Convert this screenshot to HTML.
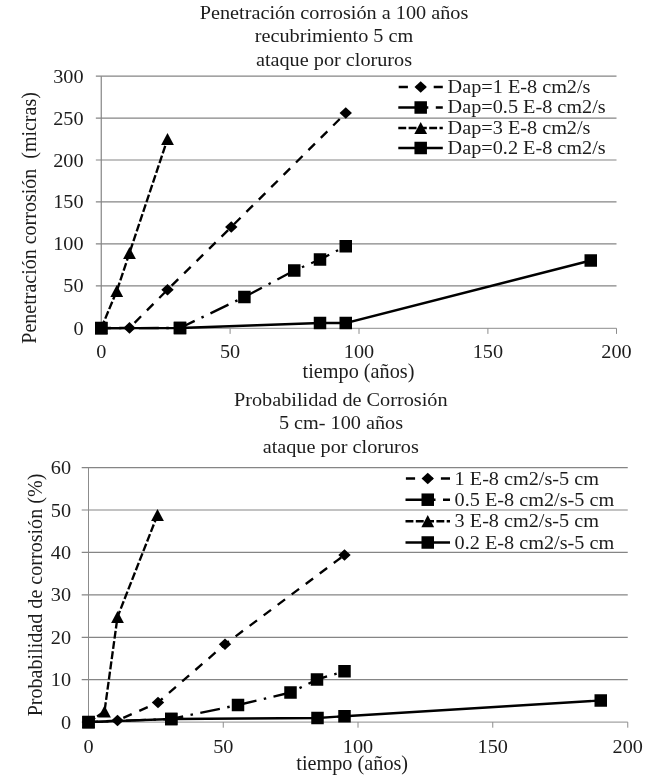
<!DOCTYPE html>
<html><head><meta charset="utf-8"><title>Charts</title>
<style>
html,body{margin:0;padding:0;background:#fff;}
svg{display:block;font-family:"Liberation Serif",serif;fill:#000;}
text{fill:#1c1c1c;}
</style></head>
<body>
<svg width="656" height="780" viewBox="0 0 656 780">
<defs><filter id="soft" x="0" y="0" width="656" height="780" filterUnits="userSpaceOnUse"><feGaussianBlur stdDeviation="0.4"/></filter></defs>
<rect x="0" y="0" width="656" height="780" fill="#fff"/>
<g filter="url(#soft)">
<line x1="95.85" y1="76.15" x2="616.5" y2="76.15" stroke="#858585" stroke-width="1.2"/>
<line x1="95.85" y1="118.1" x2="616.5" y2="118.1" stroke="#858585" stroke-width="1.2"/>
<line x1="95.85" y1="160.0" x2="616.5" y2="160.0" stroke="#858585" stroke-width="1.2"/>
<line x1="95.85" y1="201.95" x2="616.5" y2="201.95" stroke="#858585" stroke-width="1.2"/>
<line x1="95.85" y1="243.9" x2="616.5" y2="243.9" stroke="#858585" stroke-width="1.2"/>
<line x1="95.85" y1="285.85" x2="616.5" y2="285.85" stroke="#858585" stroke-width="1.2"/>
<line x1="95.85" y1="328.3" x2="616.5" y2="328.3" stroke="#8c8c8c" stroke-width="1.0"/>
<line x1="101.25" y1="76.15" x2="101.25" y2="328.3" stroke="#858585" stroke-width="1.2"/>
<line x1="101.25" y1="328.3" x2="101.25" y2="333.90000000000003" stroke="#8c8c8c" stroke-width="1"/>
<line x1="230.1" y1="328.3" x2="230.1" y2="333.90000000000003" stroke="#8c8c8c" stroke-width="1"/>
<line x1="359.0" y1="328.3" x2="359.0" y2="333.90000000000003" stroke="#8c8c8c" stroke-width="1"/>
<line x1="487.9" y1="328.3" x2="487.9" y2="333.90000000000003" stroke="#8c8c8c" stroke-width="1"/>
<line x1="616.5" y1="328.3" x2="616.5" y2="333.90000000000003" stroke="#8c8c8c" stroke-width="1"/>
<text transform="translate(83.5,82.65) scale(1,0.92)" text-anchor="end" font-size="20.25" xml:space="preserve">300</text>
<text transform="translate(83.5,124.6) scale(1,0.92)" text-anchor="end" font-size="20.25" xml:space="preserve">250</text>
<text transform="translate(83.5,166.5) scale(1,0.92)" text-anchor="end" font-size="20.25" xml:space="preserve">200</text>
<text transform="translate(83.5,208.45) scale(1,0.92)" text-anchor="end" font-size="20.25" xml:space="preserve">150</text>
<text transform="translate(83.5,250.4) scale(1,0.92)" text-anchor="end" font-size="20.25" xml:space="preserve">100</text>
<text transform="translate(83.5,292.35) scale(1,0.92)" text-anchor="end" font-size="20.25" xml:space="preserve">50</text>
<text transform="translate(83.5,334.8) scale(1,0.92)" text-anchor="end" font-size="20.25" xml:space="preserve">0</text>
<text transform="translate(101.25,358.3) scale(1,0.92)" text-anchor="middle" font-size="20.25" xml:space="preserve">0</text>
<text transform="translate(230.1,358.3) scale(1,0.92)" text-anchor="middle" font-size="20.25" xml:space="preserve">50</text>
<text transform="translate(359.0,358.3) scale(1,0.92)" text-anchor="middle" font-size="20.25" xml:space="preserve">100</text>
<text transform="translate(487.9,358.3) scale(1,0.92)" text-anchor="middle" font-size="20.25" xml:space="preserve">150</text>
<text transform="translate(616.5,358.3) scale(1,0.92)" text-anchor="middle" font-size="20.25" xml:space="preserve">200</text>
<text transform="translate(334,18.75) scale(1,0.92)" text-anchor="middle" font-size="20.25" xml:space="preserve">Penetración corrosión a 100 años</text>
<text transform="translate(334,41.75) scale(1,0.92)" text-anchor="middle" font-size="20.25" xml:space="preserve">recubrimiento 5 cm</text>
<text transform="translate(334,65.5) scale(1,0.92)" text-anchor="middle" font-size="20.25" xml:space="preserve">ataque por cloruros</text>
<text transform="translate(358.5,377.6) scale(1,1.05)" text-anchor="middle" font-size="20.25" xml:space="preserve">tiempo (años)</text>
<text transform="translate(35.8,217.9) rotate(-90) scale(1,1.05)" text-anchor="middle" font-size="20.0" xml:space="preserve">Penetración corrosión  (micras)</text>
<path d="M101.3 328.1L129.5 327.9L167.5 289.75L231.25 227L345.75 113" fill="none" stroke="#000" stroke-width="2.35" stroke-linejoin="round" stroke-dasharray="9.2 8.3" stroke-dashoffset="-0.4"/>
<path d="M95.10 328.1L101.3 322.30L107.50 328.1L101.3 333.90Z"/>
<path d="M123.30 327.9L129.5 322.10L135.70 327.9L129.5 333.70Z"/>
<path d="M161.30 289.75L167.5 283.95L173.70 289.75L167.5 295.55Z"/>
<path d="M225.05 227L231.25 221.20L237.45 227L231.25 232.80Z"/>
<path d="M339.55 113L345.75 107.20L351.95 113L345.75 118.80Z"/>
<path d="M101.3 328.1L180 328.0L244.4 297L294.25 270.5L320 259.5L345.75 246.25" fill="none" stroke="#000" stroke-width="2.35" stroke-linejoin="round" stroke-dasharray="20 7.5 2.5 7.5"/>
<rect x="95.05" y="321.85" width="12.5" height="12.5"/>
<rect x="173.75" y="321.75" width="12.5" height="12.5"/>
<rect x="238.15" y="290.75" width="12.5" height="12.5"/>
<rect x="288.00" y="264.25" width="12.5" height="12.5"/>
<rect x="313.75" y="253.25" width="12.5" height="12.5"/>
<rect x="339.50" y="240.00" width="12.5" height="12.5"/>
<path d="M101.3 328.1L116.75 291L129.5 253L167.5 139" fill="none" stroke="#000" stroke-width="2.35" stroke-linejoin="round" stroke-dasharray="7.9 2.4"/>
<path d="M94.90 334.20L101.3 322.00L107.70 334.20Z"/>
<path d="M110.35 297.10L116.75 284.90L123.15 297.10Z"/>
<path d="M123.10 259.10L129.5 246.90L135.90 259.10Z"/>
<path d="M161.10 145.10L167.5 132.90L173.90 145.10Z"/>
<path d="M101.3 328.1L180 328.0L320 323L345.75 323L590.75 260.5" fill="none" stroke="#000" stroke-width="2.35" stroke-linejoin="round"/>
<rect x="95.05" y="321.85" width="12.5" height="12.5"/>
<rect x="173.75" y="321.75" width="12.5" height="12.5"/>
<rect x="313.75" y="316.75" width="12.5" height="12.5"/>
<rect x="339.50" y="316.75" width="12.5" height="12.5"/>
<rect x="584.50" y="254.25" width="12.5" height="12.5"/>
<path d="M398.3 87L442.8 87" fill="none" stroke="#000" stroke-width="2.35" stroke-linejoin="round" stroke-dasharray="9.2 8.3" stroke-dashoffset="-0.4"/>
<path d="M414.50 87L420.7 81.20L426.90 87L420.7 92.80Z"/>
<text transform="translate(447.6,93.25) scale(1,0.92)" text-anchor="start" font-size="20.25" xml:space="preserve">Dap=1 E-8 cm2/s</text>
<path d="M398.3 107.5L442.8 107.5" fill="none" stroke="#000" stroke-width="2.35" stroke-linejoin="round" stroke-dasharray="20 7.5 2.5 7.5"/>
<rect x="414.45" y="101.25" width="12.5" height="12.5"/>
<text transform="translate(447.6,113.25) scale(1,0.92)" text-anchor="start" font-size="20.25" xml:space="preserve">Dap=0.5 E-8 cm2/s</text>
<path d="M398.3 128L442.8 128" fill="none" stroke="#000" stroke-width="2.35" stroke-linejoin="round" stroke-dasharray="7.9 2.4"/>
<path d="M414.30 134.10L420.7 121.90L427.10 134.10Z"/>
<text transform="translate(447.6,133.5) scale(1,0.92)" text-anchor="start" font-size="20.25" xml:space="preserve">Dap=3 E-8 cm2/s</text>
<path d="M398.3 148L442.8 148" fill="none" stroke="#000" stroke-width="2.35" stroke-linejoin="round"/>
<rect x="414.45" y="141.75" width="12.5" height="12.5"/>
<text transform="translate(447.6,153.75) scale(1,0.92)" text-anchor="start" font-size="20.25" xml:space="preserve">Dap=0.2 E-8 cm2/s</text>

<line x1="81.7" y1="467.6" x2="627.75" y2="467.6" stroke="#858585" stroke-width="1.2"/>
<line x1="81.7" y1="510.0" x2="627.75" y2="510.0" stroke="#858585" stroke-width="1.2"/>
<line x1="81.7" y1="552.4" x2="627.75" y2="552.4" stroke="#858585" stroke-width="1.2"/>
<line x1="81.7" y1="594.85" x2="627.75" y2="594.85" stroke="#858585" stroke-width="1.2"/>
<line x1="81.7" y1="637.3" x2="627.75" y2="637.3" stroke="#858585" stroke-width="1.2"/>
<line x1="81.7" y1="679.7" x2="627.75" y2="679.7" stroke="#858585" stroke-width="1.2"/>
<line x1="81.7" y1="722.1" x2="627.75" y2="722.1" stroke="#8c8c8c" stroke-width="1.0"/>
<line x1="88.5" y1="467.6" x2="88.5" y2="722.1" stroke="#8c8c8c" stroke-width="1.0"/>
<line x1="88.5" y1="722.1" x2="88.5" y2="727.7" stroke="#8c8c8c" stroke-width="1"/>
<line x1="223.25" y1="722.1" x2="223.25" y2="727.7" stroke="#8c8c8c" stroke-width="1"/>
<line x1="358.0" y1="722.1" x2="358.0" y2="727.7" stroke="#8c8c8c" stroke-width="1"/>
<line x1="492.75" y1="722.1" x2="492.75" y2="727.7" stroke="#8c8c8c" stroke-width="1"/>
<line x1="627.75" y1="722.1" x2="627.75" y2="727.7" stroke="#8c8c8c" stroke-width="1"/>
<text transform="translate(71,474.1) scale(1,0.92)" text-anchor="end" font-size="20.25" xml:space="preserve">60</text>
<text transform="translate(71,516.5) scale(1,0.92)" text-anchor="end" font-size="20.25" xml:space="preserve">50</text>
<text transform="translate(71,558.9) scale(1,0.92)" text-anchor="end" font-size="20.25" xml:space="preserve">40</text>
<text transform="translate(71,601.35) scale(1,0.92)" text-anchor="end" font-size="20.25" xml:space="preserve">30</text>
<text transform="translate(71,643.8) scale(1,0.92)" text-anchor="end" font-size="20.25" xml:space="preserve">20</text>
<text transform="translate(71,686.2) scale(1,0.92)" text-anchor="end" font-size="20.25" xml:space="preserve">10</text>
<text transform="translate(71,728.6) scale(1,0.92)" text-anchor="end" font-size="20.25" xml:space="preserve">0</text>
<text transform="translate(88.5,752.6) scale(1,0.92)" text-anchor="middle" font-size="20.25" xml:space="preserve">0</text>
<text transform="translate(223.25,752.6) scale(1,0.92)" text-anchor="middle" font-size="20.25" xml:space="preserve">50</text>
<text transform="translate(358.0,752.6) scale(1,0.92)" text-anchor="middle" font-size="20.25" xml:space="preserve">100</text>
<text transform="translate(492.75,752.6) scale(1,0.92)" text-anchor="middle" font-size="20.25" xml:space="preserve">150</text>
<text transform="translate(627.75,752.6) scale(1,0.92)" text-anchor="middle" font-size="20.25" xml:space="preserve">200</text>
<text transform="translate(340.75,405.75) scale(1,0.92)" text-anchor="middle" font-size="20.25" xml:space="preserve">Probabilidad de Corrosión</text>
<text transform="translate(341,428.75) scale(1,0.92)" text-anchor="middle" font-size="20.25" xml:space="preserve">5 cm- 100 años</text>
<text transform="translate(340.75,452.5) scale(1,0.92)" text-anchor="middle" font-size="20.25" xml:space="preserve">ataque por cloruros</text>
<text transform="translate(352.2,770.1) scale(1,1.05)" text-anchor="middle" font-size="20.25" xml:space="preserve">tiempo (años)</text>
<text transform="translate(42.0,595.0) rotate(-90) scale(1,1.05)" text-anchor="middle" font-size="20.1" xml:space="preserve">Probabilidad de corrosión (%)</text>
<path d="M88.5 722.1L117.5 720.5L158 702.5L225 644.25L344.5 555" fill="none" stroke="#000" stroke-width="2.35" stroke-linejoin="round" stroke-dasharray="9.2 8.3" stroke-dashoffset="-0.4"/>
<path d="M82.30 722.1L88.5 716.30L94.70 722.1L88.5 727.90Z"/>
<path d="M111.30 720.5L117.5 714.70L123.70 720.5L117.5 726.30Z"/>
<path d="M151.80 702.5L158 696.70L164.20 702.5L158 708.30Z"/>
<path d="M218.80 644.25L225 638.45L231.20 644.25L225 650.05Z"/>
<path d="M338.30 555L344.5 549.20L350.70 555L344.5 560.80Z"/>
<path d="M88.5 722.1L171.25 719L238 705L290.5 692.5L317 679.5L344.5 671.25" fill="none" stroke="#000" stroke-width="2.35" stroke-linejoin="round" stroke-dasharray="20 7.5 2.5 7.5"/>
<rect x="82.25" y="715.85" width="12.5" height="12.5"/>
<rect x="165.00" y="712.75" width="12.5" height="12.5"/>
<rect x="231.75" y="698.75" width="12.5" height="12.5"/>
<rect x="284.25" y="686.25" width="12.5" height="12.5"/>
<rect x="310.75" y="673.25" width="12.5" height="12.5"/>
<rect x="338.25" y="665.00" width="12.5" height="12.5"/>
<path d="M88.5 722.1L104.5 711.5L117.5 617L157.5 515" fill="none" stroke="#000" stroke-width="2.35" stroke-linejoin="round" stroke-dasharray="7.9 2.4"/>
<path d="M82.10 728.20L88.5 716.00L94.90 728.20Z"/>
<path d="M98.10 717.60L104.5 705.40L110.90 717.60Z"/>
<path d="M111.10 623.10L117.5 610.90L123.90 623.10Z"/>
<path d="M151.10 521.10L157.5 508.90L163.90 521.10Z"/>
<path d="M88.5 722.1L171.25 719L317.5 718L344.5 716.25L600.75 700.5" fill="none" stroke="#000" stroke-width="2.35" stroke-linejoin="round"/>
<rect x="82.25" y="715.85" width="12.5" height="12.5"/>
<rect x="165.00" y="712.75" width="12.5" height="12.5"/>
<rect x="311.25" y="711.75" width="12.5" height="12.5"/>
<rect x="338.25" y="710.00" width="12.5" height="12.5"/>
<rect x="594.50" y="694.25" width="12.5" height="12.5"/>
<path d="M405.5 478.5L450 478.5" fill="none" stroke="#000" stroke-width="2.35" stroke-linejoin="round" stroke-dasharray="9.2 8.3" stroke-dashoffset="-0.4"/>
<path d="M421.55 478.5L427.75 472.70L433.95 478.5L427.75 484.30Z"/>
<text transform="translate(454.6,484.6) scale(1,0.92)" text-anchor="start" font-size="20.25" xml:space="preserve">1 E-8 cm2/s-5 cm</text>
<path d="M405.5 499.7L450 499.7" fill="none" stroke="#000" stroke-width="2.35" stroke-linejoin="round" stroke-dasharray="20 7.5 2.5 7.5"/>
<rect x="421.50" y="493.45" width="12.5" height="12.5"/>
<text transform="translate(454.6,505.8) scale(1,0.92)" text-anchor="start" font-size="20.25" xml:space="preserve">0.5 E-8 cm2/s-5 cm</text>
<path d="M405.5 521.2L450 521.2" fill="none" stroke="#000" stroke-width="2.35" stroke-linejoin="round" stroke-dasharray="7.9 2.4"/>
<path d="M421.35 527.30L427.75 515.10L434.15 527.30Z"/>
<text transform="translate(454.6,527.4) scale(1,0.92)" text-anchor="start" font-size="20.25" xml:space="preserve">3 E-8 cm2/s-5 cm</text>
<path d="M405.5 542.5L450 542.5" fill="none" stroke="#000" stroke-width="2.35" stroke-linejoin="round"/>
<rect x="421.50" y="536.25" width="12.5" height="12.5"/>
<text transform="translate(454.6,548.8) scale(1,0.92)" text-anchor="start" font-size="20.25" xml:space="preserve">0.2 E-8 cm2/s-5 cm</text>
</g>
</svg>
</body></html>
